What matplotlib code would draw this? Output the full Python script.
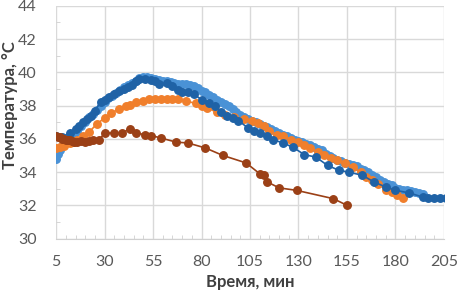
import numpy as np
import matplotlib
matplotlib.use('Agg')
import matplotlib.pyplot as plt
from matplotlib.ticker import MultipleLocator

plt.rcParams['font.family'] = ['Lato', 'DejaVu Sans']

# light blue series
t_lb = [5, 6, 7, 8, 9, 10, 12, 14, 16, 18, 20, 22, 24, 26, 28, 30, 32, 34, 36, 38,
        40, 42, 44, 46, 48, 50, 52, 54, 56, 58, 60, 62, 64, 66, 68, 70, 72, 74, 76, 78,
        80, 82, 84, 86, 88, 90, 92, 94, 96, 98, 100, 102, 104, 106, 108, 110, 112, 114,
        116, 118, 120, 122, 124, 126, 128, 130, 132, 134, 136, 138, 140, 142, 144, 146,
        148, 150, 152, 154, 156, 158, 160, 162, 164, 166, 168, 170, 172, 174, 176, 178,
        180, 182, 184, 186, 188, 190, 192, 194]
T_lb = [34.8, 35.1, 35.35, 35.55, 35.7, 35.85, 36.1, 36.3, 36.5, 36.8, 37.0, 37.3, 37.5,
        37.75, 38.0, 38.2, 38.45, 38.6, 38.75, 38.95, 39.1, 39.25, 39.35, 39.5, 39.65,
        39.7, 39.7, 39.65, 39.6, 39.55, 39.5, 39.45, 39.4, 39.35, 39.3, 39.3, 39.3, 39.25,
        39.2, 39.05, 38.9, 38.8, 38.65, 38.5, 38.35, 38.2, 38.1, 38.0, 37.8, 37.6, 37.45,
        37.3, 37.2, 37.1, 37.0, 36.9, 36.8, 36.7, 36.6, 36.45, 36.35, 36.25, 36.15, 36.05,
        35.95, 35.85, 35.8, 35.7, 35.6, 35.5, 35.4, 35.3, 35.1, 34.95, 34.85, 34.75, 34.65,
        34.55, 34.5, 34.4, 34.35, 34.2, 34.1, 34.0, 33.85, 33.7, 33.55, 33.4, 33.3, 33.2,
        33.05, 33.0, 32.95, 32.9, 32.85, 32.8, 32.75, 32.7]

# dark blue series
t_db = [5, 8, 12, 15, 17, 19, 21, 23, 25, 28, 30, 32.5, 35, 37.5, 40, 42, 44, 46, 48, 51,
        54, 56, 58, 62, 65, 68, 70, 73, 76, 80, 84, 87, 90, 93, 96, 99, 104, 107, 110, 114,
        117, 122, 127, 133, 139, 145, 151, 156, 163, 169, 175, 180, 187, 194, 197, 200,
        203, 206]
T_db = [36.2, 36.1, 36.35, 36.6, 36.8, 37.0, 37.2, 37.4, 37.7, 38.2, 38.35, 38.5, 38.7,
        38.85, 39.0, 39.1, 39.25, 39.45, 39.6, 39.6, 39.55, 39.45, 39.3, 39.35, 39.15, 38.95,
        38.8, 38.8, 38.7, 38.35, 38.15, 37.95, 37.6, 37.35, 37.25, 37.1, 36.65, 36.5, 36.35,
        36.15, 35.95, 35.75, 35.5, 35.05, 34.9, 34.4, 34.1, 34.0, 33.8, 33.4, 33.1, 32.9,
        32.75, 32.5, 32.45, 32.45, 32.45, 32.45]

# orange series
t_or = [5, 7, 9, 12, 14, 16, 19, 22, 26, 30, 33.5, 37.5, 41, 43, 46, 50, 53, 56, 59, 62,
        65, 68, 72, 77, 80, 83, 88, 92, 97, 102, 106, 109, 112, 115, 119, 122, 126, 129.5,
        133, 136, 140, 143, 147, 150, 154, 158, 162, 165, 168, 171, 175, 178, 181, 184]
T_or = [35.45, 35.5, 35.55, 35.75, 35.8, 35.9, 36.2, 36.4, 36.9, 37.25, 37.55, 37.8, 37.95,
        38.05, 38.2, 38.3, 38.4, 38.4, 38.4, 38.4, 38.4, 38.4, 38.25, 38.15, 38.0, 37.85,
        37.6, 37.45, 37.3, 37.2, 37.05, 36.95, 36.75, 36.5, 36.25, 36.2, 35.95, 35.8, 35.6,
        35.45, 35.2, 35.05, 34.85, 34.7, 34.55, 34.3, 34.0, 33.7, 33.5, 33.3, 32.95, 32.8,
        32.6, 32.45]

# brown series
t_br = [5, 6, 7, 8, 9, 10, 11, 12, 13, 14, 16, 18, 20, 22, 24, 27, 30, 35, 39, 43, 46, 51,
        54, 59, 67, 73, 82, 91, 103, 110, 112, 114, 120, 129, 148, 155]
T_br = [36.2, 36.1, 36.1, 36.0, 36.0, 35.95, 35.9, 35.9, 35.85, 35.8, 35.8, 35.85, 35.8,
        35.85, 35.9, 35.9, 36.35, 36.35, 36.35, 36.6, 36.35, 36.25, 36.2, 36.05, 35.8, 35.75,
        35.45, 35.0, 34.55, 33.9, 33.8, 33.4, 33.05, 32.9, 32.4, 32.0]

xticks = [5, 30, 55, 80, 105, 130, 155, 180, 205]
yticks = [30, 32, 34, 36, 38, 40, 42, 44]

fig = plt.figure(figsize=(4.6, 2.92), dpi=100)
ax = fig.add_axes([0.122, 0.183, 0.843, 0.797])

series = [(t_lb, T_lb, '#4A92D6', 1),
          (t_or, T_or, '#F07F2C', 2),
          (t_db, T_db, '#1F62A6', 3),
          (t_br, T_br, '#9B4016', 4)]
for t, T, c, z in series:
    ax.plot(t, T, color=c, lw=1.2, marker='o', ms=5.4, mec=c, mfc=c, zorder=z)

ax.set_xlim(5, 205)
ax.set_ylim(30, 44)
ax.set_xticks(xticks)
ax.set_yticks(yticks)
ax.xaxis.set_minor_locator(MultipleLocator(5))
ax.yaxis.set_minor_locator(MultipleLocator(1))

ax.grid(True, which='major', color='#D9D9D9', lw=1.0, zorder=0)
ax.set_axisbelow(True)
for s in ['top', 'right', 'left']:
    ax.spines[s].set_visible(False)
ax.spines['bottom'].set_color('#D0D0D0')

ax.tick_params(which='major', length=0, labelsize=11.5, labelcolor='#595959')
ax.tick_params(axis='x', which='major', pad=12)
ax.tick_params(axis='y', which='major', pad=14)
ax.tick_params(which='minor', direction='in', length=3, color='#D0D0D0')

fig.text(0.545, 0.035, 'Время, мин', fontsize=12, fontweight='bold',
         color='#404040', ha='center', va='center')
fig.text(0.022, 0.64, 'Температура, °С', fontsize=12, fontweight='bold',
         color='#404040', ha='center', va='center', rotation=90)

plt.savefig('out.png', dpi=100)
